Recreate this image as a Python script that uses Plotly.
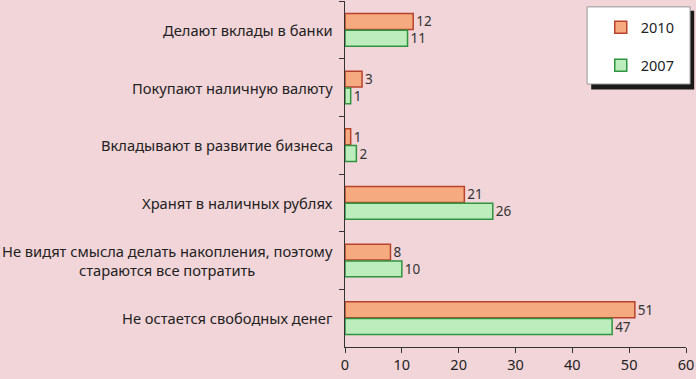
import plotly.graph_objects as go

categories = [
    "Делают вклады в банки",
    "Покупают наличную валюту",
    "Вкладывают в развитие бизнеса",
    "Хранят в наличных рублях",
    "Не видят смысла делать накопления, поэтому<br>стараются все потратить",
    "Не остается свободных денег",
]
values_2010 = [12, 3, 1, 21, 8, 51]
values_2007 = [11, 1, 2, 26, 10, 47]
x_ticks = [0, 10, 20, 30, 40, 50, 60]

font_family = "Noto Sans"
bg = "#F2D5D8"

fig = go.Figure()
fig.add_trace(go.Bar(
    name="2010", y=categories, x=values_2010, orientation="h", legendgroup="a",
    marker=dict(color="#F6AA7F", line=dict(color="#B8432C", width=1.5)),
    text=values_2010, textposition="outside", constraintext="none",
    textfont=dict(size=13.5, color="#333333", family=font_family),
    cliponaxis=False,
))
fig.add_trace(go.Bar(
    name="2007", y=categories, x=values_2007, orientation="h", legendgroup="b",
    marker=dict(color="#BDEDBD", line=dict(color="#2F9440", width=1.5)),
    text=values_2007, textposition="outside", constraintext="none",
    textfont=dict(size=13.5, color="#333333", family=font_family),
    cliponaxis=False,
))

# category labels as centered multi-line annotations
for c in categories:
    fig.add_annotation(
        x=0, xref="paper", y=c, yref="y", text=c, showarrow=False,
        xanchor="right", xshift=-10, align="center",
        font=dict(size=14.7, color="#222222", family=font_family),
    )

# legend box with shadow
fig.add_shape(type="rect", xref="paper", yref="paper",
              x0=0.722, x1=1.024, y0=0.744, y1=0.972,
              fillcolor="#1a1a1a", line=dict(width=0), layer="above")
fig.add_shape(type="rect", xref="paper", yref="paper",
              x0=0.710, x1=1.012, y0=0.760, y1=0.983,
              fillcolor="white", line=dict(color="#999999", width=1), layer="above")

fig.update_layout(
    width=696, height=379,
    margin=dict(l=345, r=10, t=1, b=32, autoexpand=False),
    paper_bgcolor=bg, plot_bgcolor=bg,
    barmode="group", bargap=0.42, bargroupgap=0.05,
    font=dict(family=font_family, color="#222222"),
    showlegend=True,
    legend=dict(x=0.75, y=0.97, xanchor="left", yanchor="top",
                bgcolor="rgba(0,0,0,0)", borderwidth=0,
                font=dict(size=14.5, color="#222222", family=font_family),
                tracegroupgap=16, itemwidth=30),
    xaxis=dict(range=[0, 60], tickvals=x_ticks, showgrid=False, zeroline=False,
               showline=True, linecolor="#333333", linewidth=1,
               ticks="outside", ticklen=5, tickcolor="#333333",
               tickfont=dict(size=14.5, color="#222222", family=font_family)),
    yaxis=dict(autorange="reversed", showgrid=False, zeroline=False,
               showline=True, linecolor="#333333", linewidth=1,
               ticks="outside", ticklen=5, tickcolor="#333333",
               tickson="boundaries", showticklabels=False),
)

fig.write_html(
    "out.html",
    config={"displayModeBar": False},
    post_script="document.body.style.margin='0';document.body.style.background='" + bg + "';",
)
